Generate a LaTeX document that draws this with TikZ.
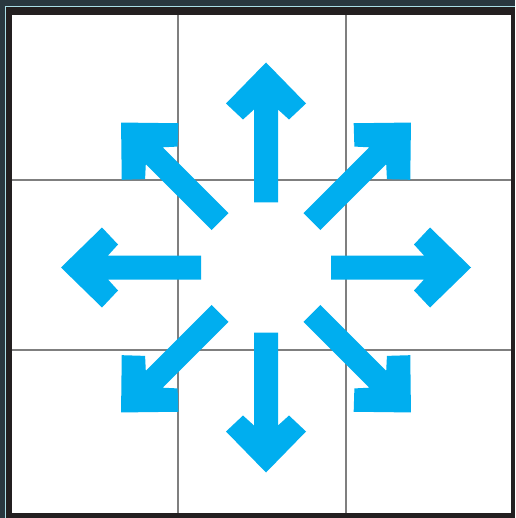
\documentclass[tikz,border=0pt]{standalone}
\usepackage{tikz}
\definecolor{slate}{HTML}{29373F}
\definecolor{framebk}{HTML}{231F20}
\definecolor{gridgray}{HTML}{7F7F7F}
\definecolor{skyblue}{HTML}{00AEEF}
\definecolor{paleline}{HTML}{A9DDE6}

\begin{document}
\begin{tikzpicture}[
  x=1pt, y=-1pt,
  gridline/.style={draw=gridgray, line width=2pt},
  bigarrow/.style={fill=skyblue}
]
\useasboundingbox (0,0) rectangle (515,518);
\fill[slate] (0,0) rectangle (515,518);
\draw[paleline, line width=1pt] (5.5,518) -- (5.5,7) -- (515,7);
\fill[framebk] (6,7.5) rectangle (515,518);
\fill[white] (12,15) rectangle (511,513);
% 3x3 grid
\foreach \gx in {178,346} \draw[gridline] (\gx,15) -- (\gx,513);
\foreach \gy in {180,350} \draw[gridline] (12,\gy) -- (511,\gy);
% eight arrows out of the middle cell
\coordinate (mid) at (266,267.5);
\foreach \ang in {0,45,...,315}
  \fill[bigarrow, shift={(mid)}, rotate=\ang]
    (65,-12) -- (158,-12) -- (148,-23) -- (164,-40) -- (205,0)
    -- (164,40) -- (148,23) -- (158,12) -- (65,12) -- cycle;
\end{tikzpicture}
\end{document}
